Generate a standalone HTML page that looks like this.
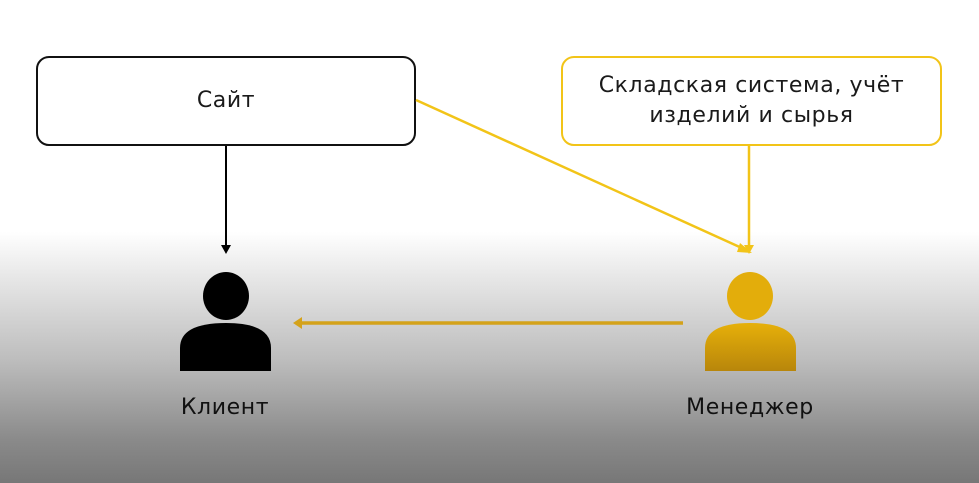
<!DOCTYPE html>
<html><head><meta charset="utf-8"><style>
html,body{margin:0;padding:0;}
body{width:979px;height:483px;overflow:hidden;background:linear-gradient(to bottom,#fff 0px,#fff 232px,#f0f0f0 260px,#bdbdbd 360px,#8a8a8a 440px,#777 483px);font-family:"DejaVu Sans","Liberation Sans",sans-serif;position:relative;}
.box{position:absolute;box-sizing:border-box;border-radius:13px;background:#fff;display:flex;align-items:center;justify-content:center;text-align:center;font-size:22px;letter-spacing:0.6px;color:#1a1a1a;line-height:30px;}
.lbl{position:absolute;font-size:22px;letter-spacing:0.6px;color:#111;transform:translateX(-50%);white-space:nowrap;}
</style></head><body>
<div class="box" style="left:36px;top:56px;width:380px;height:90px;border:2px solid #111;">Сайт</div>
<div class="box" style="left:561px;top:56px;width:381px;height:90px;border:2px solid #f2c418;">Складская система, учёт<br>изделий и сырья</div>
<svg width="979" height="483" style="position:absolute;left:0;top:0">
<defs>
<linearGradient id="g" x1="0" y1="0" x2="0" y2="1"><stop offset="0" stop-color="#e6b00a"/><stop offset="1" stop-color="#b8860b"/></linearGradient>
</defs>
<line x1="226" y1="146" x2="226" y2="246" stroke="#000" stroke-width="2"/>
<polygon points="221,245 231,245 226,254" fill="#000"/>
<line x1="416" y1="100" x2="744" y2="249" stroke="#f2c418" stroke-width="2.5"/>
<polygon points="740,243 752,253 737,252" fill="#f2c418"/>
<line x1="749" y1="146" x2="749" y2="246" stroke="#f2c418" stroke-width="2.5"/>
<polygon points="744,245 754,245 749,254" fill="#f2c418"/>
<line x1="300" y1="323" x2="683" y2="323" stroke="#d4a21a" stroke-width="3.5"/>
<polygon points="293,323 302,317 302,329" fill="#d4a21a"/>
<ellipse cx="226" cy="296" rx="23" ry="24" fill="#000"/>
<path d="M180,371 V348 Q180,323 226,323 Q271,323 271,348 V371 Z" fill="#000"/>
<ellipse cx="750" cy="296" rx="23" ry="24" fill="#e3ad0b"/>
<path d="M705,371 V348 Q705,323 750,323 Q796,323 796,348 V371 Z" fill="url(#g)"/>
</svg>
<div class="lbl" style="left:225px;top:395px;">Клиент</div>
<div class="lbl" style="left:750px;top:395px;">Менеджер</div>
</body></html>
